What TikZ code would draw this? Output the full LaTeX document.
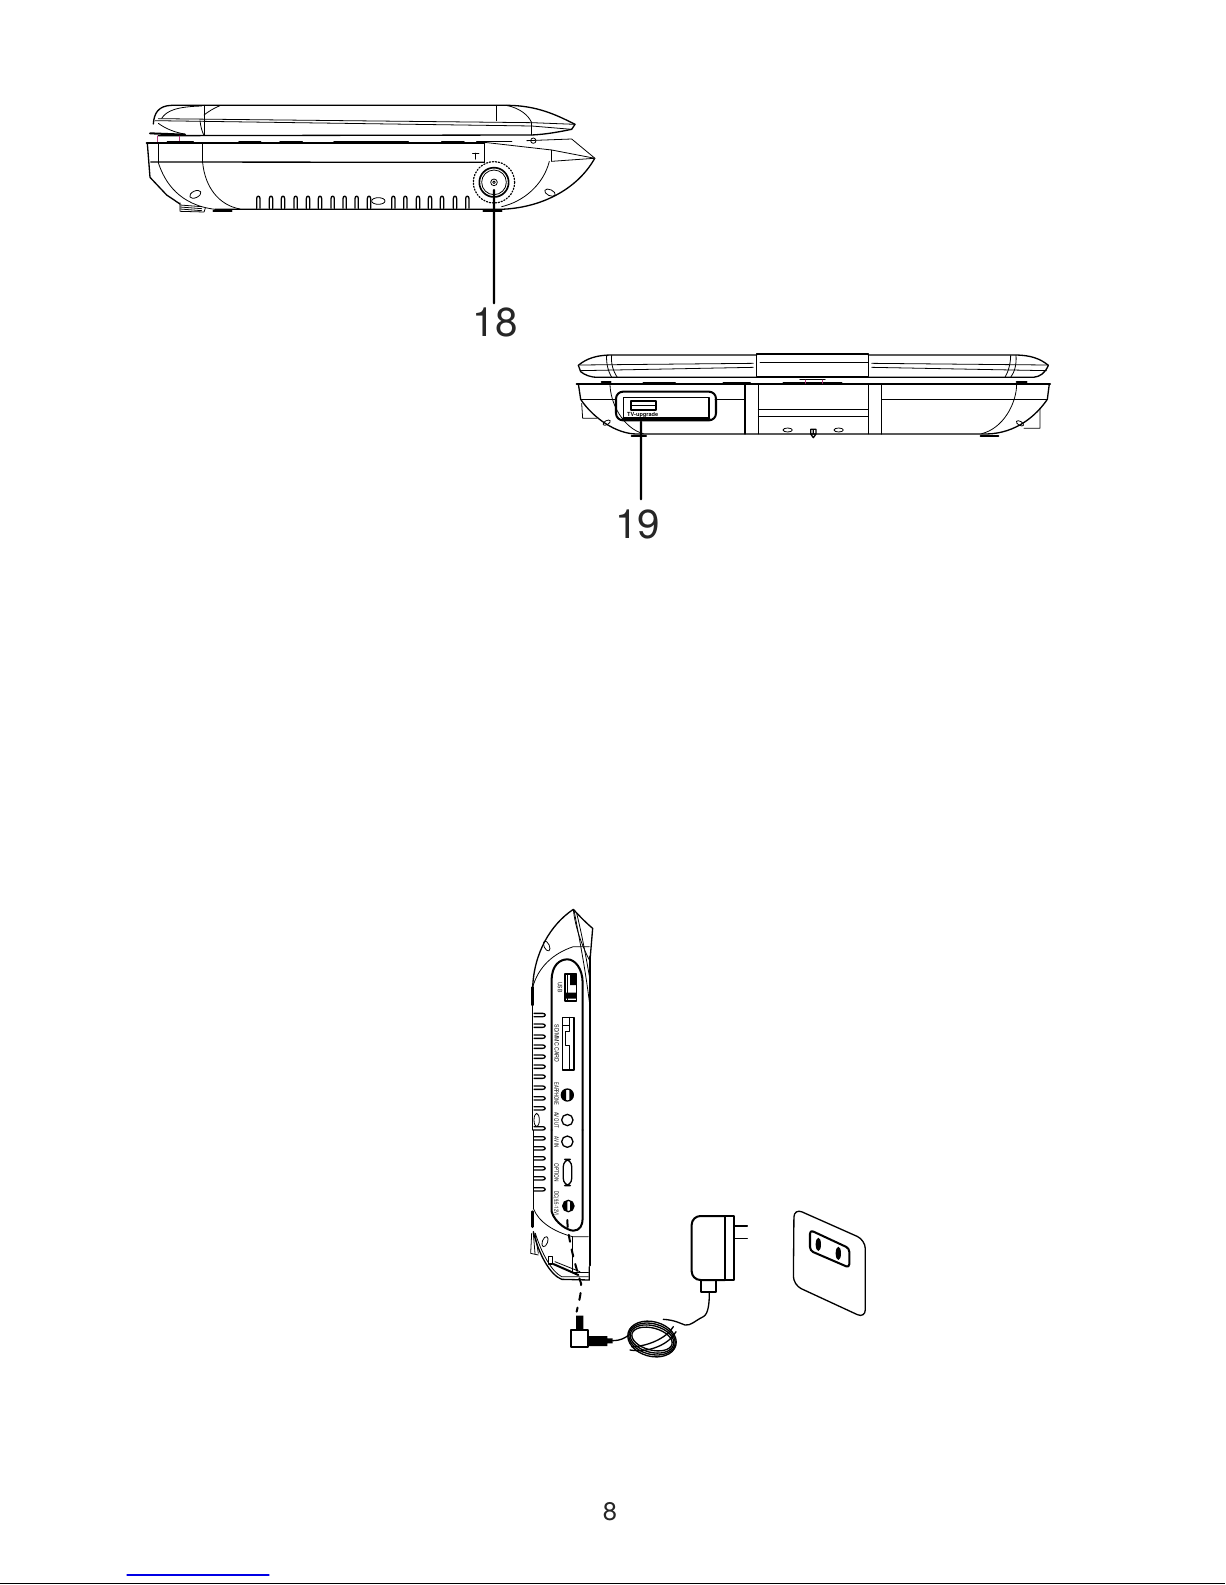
\documentclass[tikz,border=0pt]{standalone}
\usepackage{fontspec}
\setmainfont{TeX Gyre Heros}
\begin{document}
\begin{tikzpicture}[
        x=0.02cm,y=-0.02cm,
        line cap=round,line join=round,
        thinline/.style={line width=0.45pt},
        midline/.style={line width=0.75pt},
        heavy/.style={line width=1.15pt},
        leader/.style={line width=1.2pt},
        numlabel/.style={font=\fontsize{23}{23}\selectfont,inner sep=0pt,text=black!85},
        tiny/.style={font=\fontsize{3.4}{3.4}\selectfont,inner sep=0pt,rotate=-90}
    ]
    \useasboundingbox (0,0) rectangle (1225,1585);

    % Vista lateral
    \begin{scope}[shift={(130,90)},scale=1/3,thinline]
        % tapa
        \draw[midline] (70,102) .. controls (72,70) and (85,47) .. (125,46) -- (1130,46) .. controls (1220,46) and (1280,75) .. (1335,103) -- (1325,118) .. controls (1290,125) and (1250,133) .. (1205,135) -- (85,137);
        \draw (85,86) -- (1205,98) -- (1335,103);
        \draw (75,92) -- (1205,108) -- (1325,118);
        \draw (222,46) -- (222,136) (1100,46) -- (1100,92) (1205,98) -- (1205,135);
        \draw (1130,46) .. controls (1170,55) and (1195,75) .. (1205,98);
        \draw (210,92) .. controls (212,110) and (216,125) .. (222,136);
        \draw (95,85) .. controls (110,62) and (140,50) .. (215,48);
        \draw (222,75) .. controls (235,65) and (250,55) .. (270,47);
        \draw (85,100) .. controls (105,115) and (135,128) .. (165,132);
        \draw[heavy] (60,130) -- (165,134);
        \draw[magenta!70!black] (82,138) -- (82,158) (148,138) -- (148,158);
        % base
        \draw[heavy] (50,160) -- (1063,160);
        \foreach \xa/\xb in {112/190,327/392,450/517,612/835,935/1002,1040/1145} {
            \draw[midline] (\xa,155) -- (\xb,155);
        }
        \draw (1210,152) circle (8);
        \draw (1063,157) -- (1265,180) -- (1395,205);
        \draw (1190,152) -- (1325,147) -- (1395,205);
        \draw[midline] (52,160) -- (60,262) -- (110,315) -- (150,342);
        \draw (85,160) -- (85,218) (218,160) -- (218,218) (1063,160) -- (1063,217) (1265,180) -- (1265,214);
        \draw[midline] (62,216) -- (1063,217);
        \draw (1265,214) -- (1392,205);
        \draw (85,218) .. controls (105,280) and (150,345) .. (255,358);
        \draw[midline] (255,358) -- (1060,358) -- (1110,358) .. controls (1230,355) and (1340,300) .. (1393,207);
        \draw (218,218) .. controls (225,290) and (265,345) .. (330,357);
        \draw (1258,214) .. controls (1240,285) and (1180,335) .. (1115,350);
        \draw (196,313) ellipse [x radius=18,y radius=10,rotate=25];
        \draw (1260,308) ellipse [x radius=17,y radius=9,rotate=-25];
        \draw (745,333) ellipse [x radius=20,y radius=10];
        % ranuras
        \foreach \x in {385,423,459,497,534,570,608,644,680,717,790,826,864,900,936,975,1012} {
            \draw[midline] (\x-5,355) -- (\x-5,326) .. controls (\x-5,316) and (\x+5,316) .. (\x+5,326) -- (\x+5,355);
        }
        % antena
        \draw[midline] (1028,190) -- (1046,190) (1037,190) -- (1037,207);
        \draw[line width=0.7pt,densely dotted] (1092,277) circle (62);
        \draw[line width=0.95pt] (1092,277) circle (44);
        \draw (1092,277) circle (37) (1092,277) circle (10) (1092,277) circle (4);
        % patas
        \draw[heavy] (250,362) -- (305,362) (1060,362) -- (1115,362);
        \draw (150,338) -- (150,364) -- (222,366) -- (226,354);
        \foreach \y in {345,351,357} {
            \draw (150,\y) -- (215,\y+5);
        }
        \coordinate (ant) at (1092,300);
        \node[numlabel] (lab18) at (1095,697) {18};
        \draw[leader] (ant) -- (1092,640);
    \end{scope}

    % Vista frontal
    \begin{scope}[shift={(560,340)},scale=1/3,thinline]
        % tapa
        \draw[midline] (55,76) .. controls (80,55) and (110,46) .. (150,45) -- (590,45) (925,45) -- (1370,45) .. controls (1410,46) and (1440,55) .. (1465,76);
        \draw[midline] (55,76) -- (62,95) .. controls (75,105) and (90,112) .. (115,112) -- (1420,112) .. controls (1440,110) and (1455,100) .. (1465,76);
        \draw[midline] (590,42) rectangle (925,110);
        \draw (600,67) -- (925,67);
        \draw (60,75) -- (580,70) (60,92) -- (580,82) (935,70) -- (1460,75) (935,82) -- (1460,92);
        \draw (140,46) .. controls (138,70) and (145,95) .. (155,112) (155,46) .. controls (152,70) and (160,95) .. (172,112);
        \draw (1368,46) .. controls (1370,70) and (1365,95) .. (1352,112) (1352,46) .. controls (1352,70) and (1345,95) .. (1335,112);
        % base
        \draw[heavy] (50,131) -- (1470,131);
        \draw[midline] (55,131) -- (62,178) .. controls (100,235) and (170,282) .. (230,282) -- (1280,282) .. controls (1370,280) and (1430,225) .. (1462,178) -- (1468,131);
        \draw (150,131) .. controls (150,190) and (190,265) .. (250,281) (1370,131) .. controls (1370,190) and (1330,265) .. (1265,281);
        \draw (62,178) -- (168,178) (465,178) -- (555,178) (965,178) -- (1462,178);
        \draw[midline] (555,131) -- (555,282) (965,131) -- (965,282);
        \draw (595,131) -- (595,282) (925,131) -- (925,282);
        \draw (595,208) -- (925,208) (595,230) -- (925,230);
        \draw (65,190) -- (68,235) -- (110,235) (1440,205) -- (1440,265) -- (1392,265);
        % panel usb
        \draw[heavy,rounded corners=4pt] (168,155) rectangle (468,241);
        \draw[midline] (190,235) -- (190,172) -- (447,172) -- (447,235);
        \draw[line width=1.6pt] (190,235) -- (447,235);
        \draw[heavy] (212,182) rectangle (287,210);
        \draw[midline] (212,196) -- (287,196);
        \node[font=\fontsize{3.2}{3.2}\selectfont\bfseries,inner sep=0pt] (tvup) at (248,224) {TV-upgrade};
        % detalles
        \draw (683,270) ellipse [x radius=14,y radius=6] (836,270) ellipse [x radius=14,y radius=6];
        \draw (140,248) ellipse [x radius=12,y radius=6,rotate=30] (1380,250) ellipse [x radius=12,y radius=6,rotate=-30];
        \draw[midline] (752,268) rectangle (768,282) (752,282) -- (760,293) -- (768,282) (760,268) -- (760,282);
        \draw[heavy] (215,287) -- (258,287) (1262,287) -- (1315,287);
        \draw[heavy] (125,125) -- (152,125) (1370,125) -- (1400,125) (250,128) -- (345,128) (490,128) -- (570,128) (670,128) -- (845,128);
        \draw[midline] (720,118) -- (795,118);
        \draw[magenta!70!black] (735,120) -- (735,130) (788,120) -- (788,130);
        \coordinate (usb) at (243,245);
        \node[numlabel] (lab19) at (233,552) {19};
        \draw[leader] (usb) -- (243,478);
    \end{scope}

    % Vista trasera, parte alta
    \begin{scope}[shift={(510,900)},scale=1/3,thinline]
        \draw[midline] (68,262) .. controls (72,160) and (120,75) .. (190,28) .. controls (210,50) and (230,70) .. (248,85) -- (240,180);
        \draw (190,28) .. controls (195,80) and (215,135) .. (238,180);
        \draw (192,30) .. controls (205,100) and (225,200) .. (238,305);
        \draw (200,40) .. controls (215,100) and (230,180) .. (240,240);
        \draw (68,262) .. controls (85,200) and (130,160) .. (190,140) -- (238,140);
        \draw (110,138) ellipse [x radius=16,y radius=8,rotate=-65];
        \draw[line width=1.6pt] (68,262) -- (68,315);
        \draw[midline] (68,315) -- (68,690);
        \draw[heavy] (240,170) -- (240,690);
        \draw[line width=1.6pt] (240,175) -- (240,195) (240,235) -- (240,320) (240,355) -- (240,400) (240,490) -- (240,600);
        % panel
        \draw[heavy] (125,690) -- (125,240) .. controls (125,195) and (150,178) .. (172,178) .. controls (195,178) and (218,205) .. (218,250) -- (218,690);
        % usb
        \draw[midline] (165,222) rectangle (200,303);
        \fill (180,222) rectangle (198,255) (165,278) rectangle (198,296);
        \draw (172,222) -- (172,303);
        \node[tiny] (usbtxt) at (150,262) {\scalebox{0.85}[1]{USB}};
        % tarjeta
        \draw[midline] (158,352) rectangle (192,510);
        \draw (178,352) -- (178,395) -- (165,395) -- (165,435) -- (178,435) -- (178,510) (158,375) -- (178,375);
        \node[tiny] (cardtxt) at (140,430) {\scalebox{0.88}[1]{SD/MMC CARD}};
        % conectores
        \node[tiny] (eartxt) at (140,582) {\scalebox{0.68}[1]{EARPHONE}};
        \begin{scope}
            \clip (172,585) circle (18);
            \fill (150,565) rectangle (168,605) (178,565) rectangle (195,605);
        \end{scope}
        \draw[midline] (172,585) circle (18);
        \node[tiny] (outtxt) at (140,660) {\scalebox{0.72}[1]{AV OUT}};
        \draw[midline] (172,660) circle (17);
        % ranuras
        \foreach \y in {345,377,410,440,470,500,530,563,595,625} {
            \draw[midline] (72,\y-5) -- (98,\y-5) .. controls (108,\y-5) and (108,\y+5) .. (98,\y+5) -- (72,\y+5);
        }
        \draw (80,660) ellipse [x radius=8,y radius=20];
    \end{scope}

    % Vista trasera, parte baja
    \begin{scope}[shift={(510,1120)},scale=1/3,thinline]
        \draw[midline] (70,30) -- (70,265);
        \draw[line width=1.6pt] (67,275) -- (67,320);
        \draw[heavy] (240,30) -- (240,435);
        \draw[line width=1.6pt] (240,90) -- (240,160) (240,200) -- (240,260) (240,370) -- (240,435);
        \draw[heavy] (125,30) -- (125,275) .. controls (135,310) and (175,332) .. (190,332) .. controls (210,332) and (218,315) .. (218,295) -- (218,30);
        \foreach \y in {25,55,85,115,145,175,208} {
            \draw[midline] (72,\y-5) -- (98,\y-5) .. controls (108,\y-5) and (108,\y+5) .. (98,\y+5) -- (72,\y+5);
        }
        \node[tiny] (intxt) at (140,66) {\scalebox{0.74}[1]{AV IN}};
        \draw[midline] (172,65) circle (17);
        \node[tiny] (opttxt) at (140,158) {\scalebox{0.8}[1]{OPTION}};
        \draw[midline,rounded corners=4pt] (160,118) rectangle (185,197);
        \node[tiny] (dctxt) at (138,251) {\scalebox{0.72}[1]{DC(9.5-12V)}};
        \begin{scope}
            \clip (175,258) circle (17);
            \fill (155,240) rectangle (172,276) (180,240) rectangle (195,276);
        \end{scope}
        \draw[midline] (175,258) circle (17);
        % esquina inferior
        \draw (70,265) .. controls (85,305) and (130,335) .. (188,350) -- (235,350);
        \draw[midline] (188,350) -- (188,458) -- (235,458);
        \draw (65,340) -- (62,400) -- (85,405) (70,340) -- (75,400) (75,340) -- (85,400);
        \draw[midline] (70,335) .. controls (85,400) and (120,465) .. (155,478) -- (238,480) -- (238,440);
        \draw (76,340) .. controls (95,400) and (125,455) .. (155,470) -- (235,470);
        \draw (105,365) ellipse [x radius=16,y radius=8,rotate=70];
        \draw[midline] (116,410) rectangle (128,432);
        \draw[heavy] (130,432) -- (205,465);
        \draw (135,425) -- (210,455);
        % enchufe
        \coordinate (jack) at (172,300);
        \coordinate (jackbend) at (213,490);
        \node[draw,heavy,inner sep=0pt,minimum height=0.34cm,minimum width=0.34cm] (plugbox) at (208.5,654) {};
        \fill (198,587) rectangle (220,627) (236,648) rectangle (292,678) (292,655) rectangle (308,670);
        \draw[heavy,dash pattern=on 4pt off 4.5pt] (jack) .. controls (172,340) and (190,420) .. (jackbend) .. controls (215,520) and (205,550) .. (200,575);
    \end{scope}

    % Adaptador y toma
    \begin{scope}[shift={(560,1190)},scale=1/3,thinline]
        \draw[heavy,rounded corners=5pt] (495,78) -- (395,78) -- (395,270) -- (495,270);
        \draw[heavy] (495,78) rectangle (523,270);
        \draw[midline] (523,108) -- (562,108) (523,145) -- (562,145);
        \draw[heavy] (423,270) rectangle (467,307);
        \draw[midline] (448,307) .. controls (448,340) and (445,372) .. (430,380) .. controls (405,392) and (392,408) .. (375,405) .. controls (360,400) and (345,390) .. (310,388);
        \draw[midline] (158,452) .. controls (180,452) and (195,445) .. (210,432);
        % cable enrollado
        \foreach \rx/\ry in {74/52,71/46,67/40,62/33} {
            \draw[midline] (276,447) ellipse [x radius=\rx,y radius=\ry,rotate=-15];
        }
        \draw[midline] (215,470) .. controls (260,470) and (320,445) .. (340,410);
        \draw[midline] (210,480) .. controls (270,490) and (330,460) .. (348,425);
        % toma de pared
        \draw[midline,rounded corners=5pt] (702,55) -- (916,150) -- (916,385) -- (700,285) -- cycle;
        \draw[heavy,rounded corners=2pt] (750,120) -- (868,175) -- (868,233) -- (750,182) -- cycle;
        \fill (775,163) ellipse [x radius=8,y radius=20] (835,190) ellipse [x radius=8,y radius=20];
    \end{scope}

    % Pie de pagina
    \node[font=\fontsize{14.5}{14.5}\selectfont,inner sep=0pt,text=black!85] (pagenum) at (610,1512) {8};
    \coordinate (linkl) at (127,1575);
    \coordinate (linkr) at (269,1575);
    \draw[blue!90!black,line width=0.6pt] (linkl) -- (linkr);
    \coordinate (footl) at (0,1583.5);
    \coordinate (footr) at (1225,1583.5);
    \draw[line width=1.1pt,line cap=butt] (footl) -- (footr);
\end{tikzpicture}
\end{document}
